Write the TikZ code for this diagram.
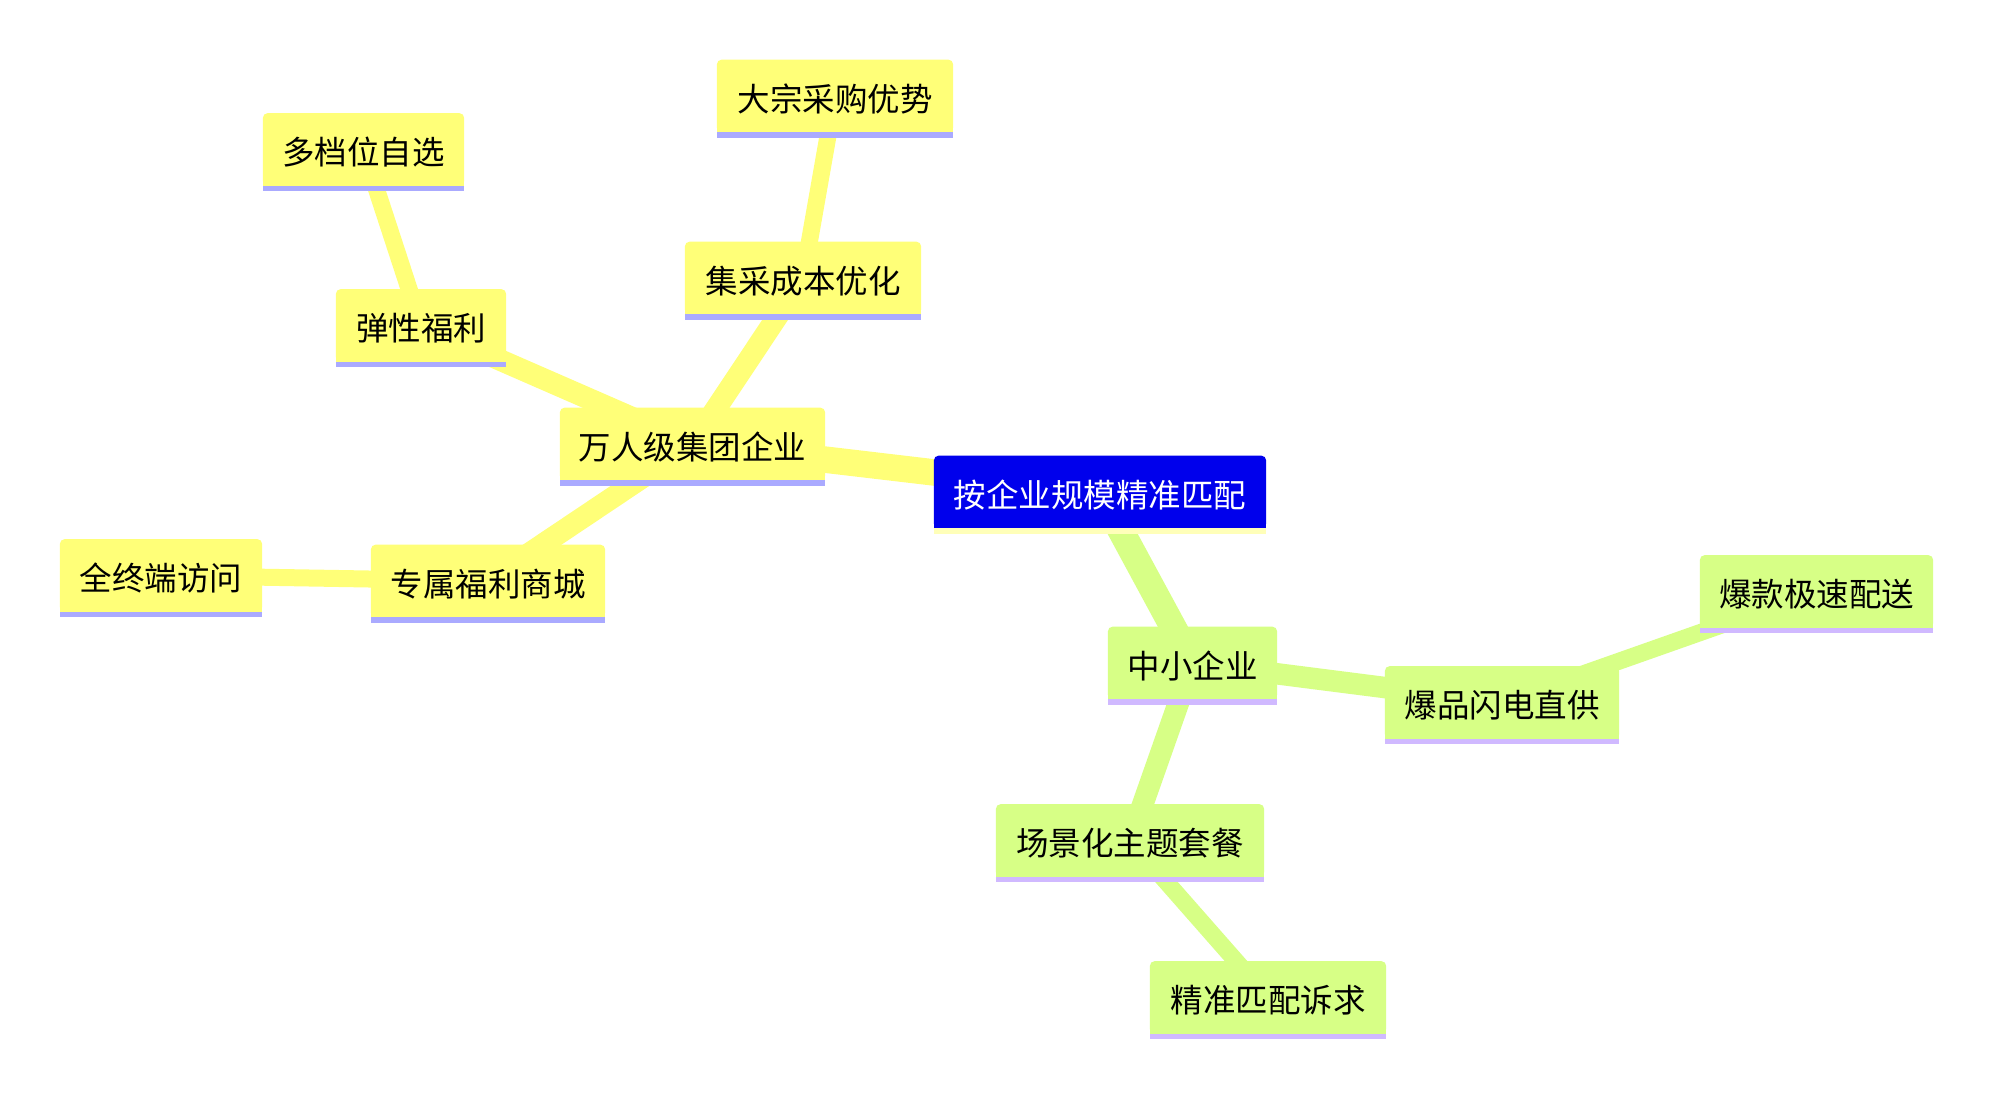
\documentclass[tikz,border=0pt]{standalone}
\usepackage{fontspec}
\newfontfamily\cjk{Noto Sans CJK SC}
\usetikzlibrary{calc}
\pgfdeclarelayer{bglayer}
\pgfdeclarelayer{edgelayer}
\pgfdeclarelayer{boxlayer}
\pgfsetlayers{bglayer,edgelayer,boxlayer,main}
\definecolor{rootfill}{RGB}{0,0,236}
\definecolor{rootline}{RGB}{255,255,185}
\definecolor{yfill}{RGB}{255,255,120}
\definecolor{yline}{RGB}{170,170,255}
\definecolor{gfill}{RGB}{215,255,134}
\definecolor{gline}{RGB}{208,185,255}
\tikzset{
  mm/.style={inner sep=0pt, minimum height=72.5pt, text height=30pt, text depth=0pt,
    font=\cjk\fontsize{32.5pt}{39pt}\selectfont, text=black},
  rootnode/.style={mm, text=white},
  eone/.style={line width=26.5pt},
  etwo/.style={line width=21.5pt},
  ethree/.style={line width=17pt},
}
\newcommand{\mmshape}[3]{%
  \fill[#2, rounded corners=5pt] (#1.north west) rectangle (#1.south east);
  \fill[#2] (#1.west) rectangle (#1.south east);
  \fill[#3] (#1.south west) rectangle ([yshift=-5.5pt]#1.south east);
}
\begin{document}
\begin{tikzpicture}[x=1pt,y=-1pt]
\begin{pgfonlayer}{bglayer}
\fill[white] (0,0) rectangle (1993,1095);
\end{pgfonlayer}
\useasboundingbox (0,0) rectangle (1993,1095);
% nodes
\node[rootnode, minimum width=332pt] (root) at (1100,492) {按企业规模精准匹配};
\node[mm, minimum width=265pt] (wanren) at (692.5,444) {万人级集团企业};
\node[mm, minimum width=170pt] (tanxing) at (421,325.5) {弹性福利};
\node[mm, minimum width=201pt] (duodang) at (363.5,149.5) {多档位自选};
\node[mm, minimum width=236pt] (jicai) at (803,278) {集采成本优化};
\node[mm, minimum width=236pt] (dazong) at (835,96) {大宗采购优势};
\node[mm, minimum width=234pt] (zhuanshu) at (488,581) {专属福利商城};
\node[mm, minimum width=202pt] (quanzhong) at (161,575.5) {全终端访问};
\node[mm, minimum width=169pt] (zhongxiao) at (1192.5,663) {中小企业};
\node[mm, minimum width=234pt] (baopin) at (1502,702.5) {爆品闪电直供};
\node[mm, minimum width=233pt] (baokuan) at (1816.5,591.5) {爆款极速配送};
\node[mm, minimum width=268pt] (changjing) at (1130,840.5) {场景化主题套餐};
\node[mm, minimum width=236pt] (jingzhun) at (1268,997.5) {精准匹配诉求};
% boxes
\begin{pgfonlayer}{boxlayer}
\mmshape{root}{rootfill}{rootline}
\mmshape{wanren}{yfill}{yline}
\mmshape{tanxing}{yfill}{yline}
\mmshape{duodang}{yfill}{yline}
\mmshape{jicai}{yfill}{yline}
\mmshape{dazong}{yfill}{yline}
\mmshape{zhuanshu}{yfill}{yline}
\mmshape{quanzhong}{yfill}{yline}
\mmshape{zhongxiao}{gfill}{gline}
\mmshape{baopin}{gfill}{gline}
\mmshape{baokuan}{gfill}{gline}
\mmshape{changjing}{gfill}{gline}
\mmshape{jingzhun}{gfill}{gline}
\end{pgfonlayer}
% edges
\begin{pgfonlayer}{edgelayer}
\draw[eone, yfill] (root.center) -- (wanren.center);
\draw[eone, gfill] (root.center) -- (zhongxiao.center);
\draw[etwo, yfill] (wanren.center) -- (tanxing.center);
\draw[etwo, yfill] (wanren.center) -- (jicai.center);
\draw[etwo, yfill] (wanren.center) -- (zhuanshu.center);
\draw[ethree, yfill] (tanxing.center) -- (duodang.center);
\draw[ethree, yfill] (jicai.center) -- (dazong.center);
\draw[ethree, yfill] (zhuanshu.center) -- (quanzhong.center);
\draw[etwo, gfill] (zhongxiao.center) -- (baopin.center);
\draw[etwo, gfill] (zhongxiao.center) -- (changjing.center);
\draw[ethree, gfill] (baopin.center) -- (baokuan.center);
\draw[ethree, gfill] (changjing.center) -- (jingzhun.center);
\end{pgfonlayer}
\end{tikzpicture}
\end{document}
